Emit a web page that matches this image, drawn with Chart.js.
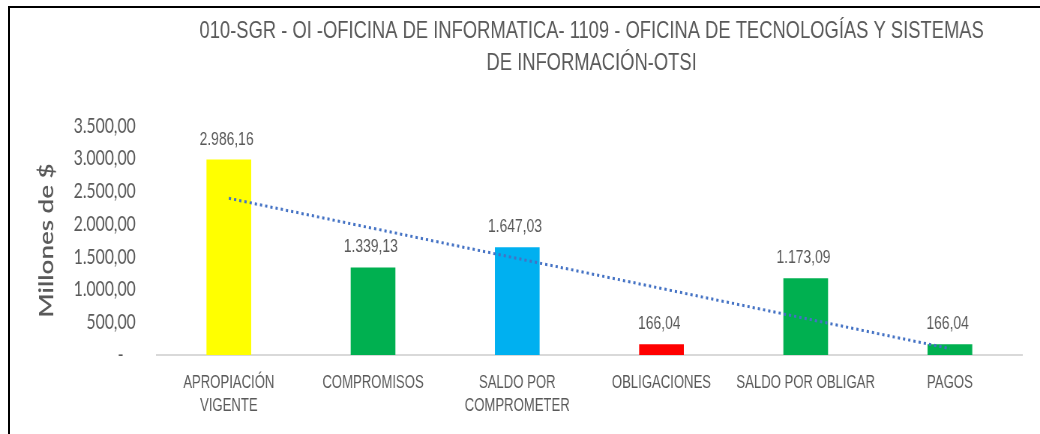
<!DOCTYPE html>
<html>
<head>
<meta charset="utf-8">
<script src="https://cdn.jsdelivr.net/npm/chart.js@4"></script>
<style>
  html, body { margin: 0; padding: 0; background: #fff; }
  #wrap { position: relative; width: 1040px; height: 434px; overflow: hidden; }
  #frame { position: absolute; left: 8px; top: 6px; width: 1040px; height: 440px;
           border-top: 2px solid #000; border-left: 2px solid #000; box-sizing: border-box; }
  #myChart { position: absolute; left: 0; top: 0; }
</style>
</head>
<body>
<div id="wrap">
  <div id="frame"></div>
  <!-- the original picture is squeezed sideways, so the canvas is drawn wider and shown at 1040px -->
  <canvas id="myChart" width="1387" height="434" style="width:1040px;height:434px"></canvas>
</div>
<script>
// chart data
const titleLines = [
  '010-SGR - OI -OFICINA DE INFORMATICA- 1109 - OFICINA DE TECNOLOGÍAS Y SISTEMAS',
  'DE INFORMACIÓN-OTSI'
];
const categories = [
  ['APROPIACIÓN', 'VIGENTE'],
  'COMPROMISOS',
  ['SALDO POR', 'COMPROMETER'],
  'OBLIGACIONES',
  'SALDO POR OBLIGAR',
  'PAGOS'
];
const values = [2986.16, 1339.13, 1647.03, 166.04, 1173.09, 166.04];
const barColors = ['#FFFF00', '#00B050', '#00B0F0', '#FF0000', '#00B050', '#00B050'];
// linear trend line at first and last category
const trendValues = [2395, null, null, null, null, 98];
const yTicks = [0, 500, 1000, 1500, 2000, 2500, 3000, 3500];
const yTitle = 'Millones de $';

const textColor = '#595959';
const sans = "'Liberation Sans', Arial, sans-serif";

// 1234.5 -> "1.234,50"
const fmt = (v) => {
  const parts = v.toFixed(2).split('.');
  parts[0] = parts[0].replace(/\B(?=(\d{3})+(?!\d))/g, '.');
  return parts.join(',');
};

// value labels over the bars
const barLabels = {
  id: 'barLabels',
  afterDatasetsDraw(chart) {
    const ctx = chart.ctx;
    const meta = chart.getDatasetMeta(0);
    ctx.save();
    ctx.font = '18.5px ' + sans;
    ctx.fillStyle = textColor;
    ctx.textAlign = 'center';
    ctx.textBaseline = 'alphabetic';
    meta.data.forEach((bar, i) => {
      ctx.fillText(fmt(values[i]), bar.x - 3, bar.y - 15);
    });
    ctx.restore();
  }
};

// title centred over the plot area, like the original
const plotTitle = {
  id: 'plotTitle',
  afterDraw(chart) {
    const ctx = chart.ctx;
    const area = chart.chartArea;
    const cx = (area.left + area.right) / 2;
    ctx.save();
    ctx.font = '24.5px ' + sans;
    ctx.fillStyle = textColor;
    ctx.textAlign = 'center';
    ctx.textBaseline = 'alphabetic';
    titleLines.forEach((line, i) => ctx.fillText(line, cx + 3, 38 + i * 31.5));
    ctx.restore();
  }
};

window.onload = () => {
  const data = {
    labels: categories,
    datasets: [
      {
        type: 'bar',
        data: values,
        backgroundColor: barColors,
        borderWidth: 0,
        categoryPercentage: 1,
        barPercentage: 0.31,
        order: 2
      },
      {
        type: 'line',
        data: trendValues,
        spanGaps: true,
        borderColor: '#4472C4',
        borderWidth: 3,
        borderDash: [3, 4],
        pointRadius: 0,
        fill: false,
        order: 1
      }
    ]
  };

  const config = {
    type: 'bar',
    data: data,
    options: {
      responsive: false,
      animation: false,
      devicePixelRatio: 1,
      layout: { padding: { top: 126, right: 24, bottom: 0, left: 0 } },
      plugins: {
        legend: { display: false },
        tooltip: { enabled: false },
        title: { display: false }
      },
      scales: {
        x: {
          grid: { display: false, drawTicks: false },
          border: { display: true, color: '#D9D9D9', width: 2 },
          ticks: {
            color: textColor,
            font: { family: sans, size: 17.5, lineHeight: 1.31 },
            padding: 17,
            maxRotation: 0,
            autoSkip: false
          },
          afterFit: (scale) => { scale.height = 79; }
        },
        y: {
          min: 0,
          max: 3500,
          afterBuildTicks: (scale) => { scale.ticks = yTicks.map(v => ({ value: v })); },
          grid: { display: false, drawTicks: false },
          border: { display: false },
          ticks: {
            color: textColor,
            font: { family: "Lato, sans-serif", size: 21 },
            padding: 28,
            callback: (v) => v === 0 ? '-   ' : fmt(v)
          },
          title: {
            display: true,
            text: yTitle,
            color: textColor,
            font: { family: "Lato, sans-serif", size: 26, weight: '600' },
            padding: { top: 47, bottom: 0 }
          },
          afterFit: (scale) => { scale.width = 209; }
        }
      }
    },
    plugins: [barLabels, plotTitle]
  };

  new Chart(document.getElementById('myChart'), config);
};
</script>
</body>
</html>
